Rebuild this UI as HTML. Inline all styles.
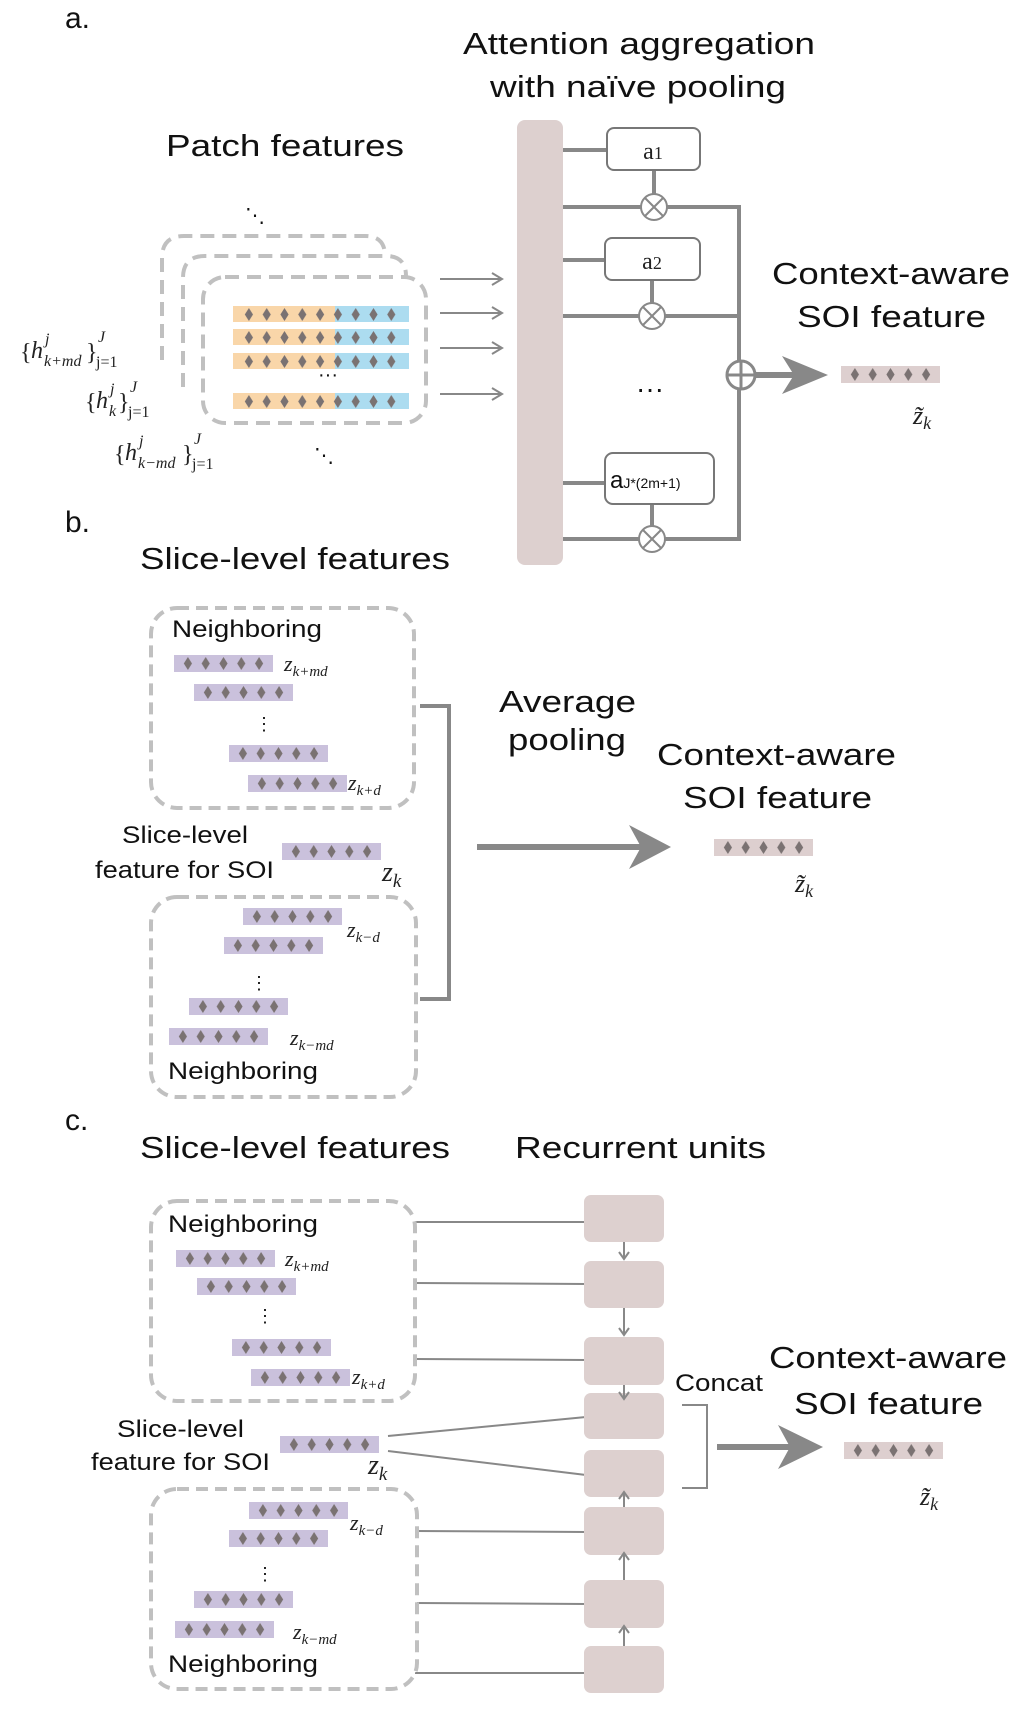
<!DOCTYPE html>
<html><head><meta charset="utf-8"><style>
html,body{margin:0;padding:0;background:#fff;}
svg{display:block;}
.t{font-family:"Liberation Sans",sans-serif;fill:#111;}
.m{font-family:"Liberation Serif",serif;font-style:italic;fill:#222;}
.s{font-family:"Liberation Serif",serif;fill:#222;}
</style></head><body>
<svg width="1017" height="1720" viewBox="0 0 1017 1720" xmlns="http://www.w3.org/2000/svg">
<defs>
<pattern id="dp" x="0" y="0" width="17.8" height="17" patternUnits="userSpaceOnUse">
<polygon points="8.9,2 13,8.5 8.9,15 4.8,8.5" fill="#7a7272"/>
</pattern>
<g id="pb"><rect width="99" height="17" fill="#cac1dc"/><g transform="translate(5,0)"><rect width="89" height="17" fill="url(#dp)"/></g></g>
<g id="kb"><rect width="99" height="17" fill="#ddcfcf"/><g transform="translate(5,0)"><rect width="89" height="17" fill="url(#dp)"/></g></g>
<g id="ob"><rect width="176" height="16" fill="#f9d6a9"/><rect x="102" width="74" height="16" fill="#acdcf0"/><g transform="translate(7,0)"><rect width="160.2" height="16" fill="url(#dp)"/></g></g>
<g id="ar"><line x1="0" y1="0" x2="60" y2="0" stroke="#888" stroke-width="2"/><polyline points="52,-6 62,0 52,6" fill="none" stroke="#888" stroke-width="2"/></g>
<g id="mul"><circle r="13" fill="#fff" stroke="#888" stroke-width="2"/><line x1="-9" y1="-9" x2="9" y2="9" stroke="#888" stroke-width="2"/><line x1="-9" y1="9" x2="9" y2="-9" stroke="#888" stroke-width="2"/></g>
</defs>

<!-- ===== Panel a ===== -->
<text class="t" x="65" y="28" font-size="30">a.</text>
<text class="t" x="463" y="54" font-size="31" textLength="352" lengthAdjust="spacingAndGlyphs">Attention aggregation</text>
<text class="t" x="490" y="97" font-size="31" textLength="296" lengthAdjust="spacingAndGlyphs">with naïve pooling</text>
<text class="t" x="166" y="156" font-size="31" textLength="238" lengthAdjust="spacingAndGlyphs">Patch features</text>

<path d="M162,360 V258 Q162,236 184,236 H365 Q385,236 385,256" fill="none" stroke="#c0c0c0" stroke-width="4" stroke-dasharray="14,8"/>
<path d="M183,387 V278 Q183,256 205,256 H386 Q406,256 406,276" fill="#fff" stroke="#c0c0c0" stroke-width="4" stroke-dasharray="14,8"/>
<rect x="203" y="277" width="223" height="146" rx="22" fill="#fff" stroke="#c0c0c0" stroke-width="4" stroke-dasharray="14,8"/>
<use href="#ob" x="233" y="306"/>
<use href="#ob" x="233" y="329"/>
<use href="#ob" x="233" y="353"/>
<use href="#ob" x="233" y="393"/>
<text class="t" x="318" y="381" font-size="20">···</text>
<text class="t" x="245" y="222" font-size="20">⋱</text>
<text class="t" x="314" y="462" font-size="20">⋱</text>

<!-- set labels -->
<g>
<text class="s" x="20" y="360" font-size="24">{</text>
<text class="m" x="31" y="358" font-size="24">h</text>
<text class="m" x="45" y="344" font-size="16">j</text>
<text class="m" x="44" y="366" font-size="16">k+md</text>
<text class="s" x="86" y="360" font-size="24">}</text>
<text class="m" x="98" y="342" font-size="16">J</text>
<text class="s" x="96" y="367" font-size="16">j=1</text>

<text class="s" x="85" y="410" font-size="24">{</text>
<text class="m" x="96" y="408" font-size="24">h</text>
<text class="m" x="110" y="394" font-size="16">j</text>
<text class="m" x="109" y="416" font-size="16">k</text>
<text class="s" x="118" y="410" font-size="24">}</text>
<text class="m" x="130" y="392" font-size="16">J</text>
<text class="s" x="128" y="417" font-size="16">j=1</text>

<text class="s" x="114" y="462" font-size="24">{</text>
<text class="m" x="125" y="460" font-size="24">h</text>
<text class="m" x="139" y="446" font-size="16">j</text>
<text class="m" x="138" y="468" font-size="16">k−md</text>
<text class="s" x="182" y="462" font-size="24">}</text>
<text class="m" x="194" y="444" font-size="16">J</text>
<text class="s" x="192" y="469" font-size="16">j=1</text>
</g>

<use href="#ar" x="440" y="279"/>
<use href="#ar" x="440" y="313"/>
<use href="#ar" x="440" y="348"/>
<use href="#ar" x="440" y="394"/>

<rect x="517" y="120" width="46" height="445" rx="8" fill="#ddd0cf"/>

<g stroke="#888" stroke-width="4" fill="none">
<line x1="563" y1="150" x2="607" y2="150"/>
<line x1="563" y1="207" x2="739" y2="207"/>
<line x1="563" y1="260" x2="607" y2="260"/>
<line x1="563" y1="316" x2="739" y2="316"/>
<line x1="563" y1="483" x2="607" y2="483"/>
<line x1="563" y1="539" x2="741" y2="539"/>
<line x1="739" y1="205" x2="739" y2="541"/>
<line x1="654" y1="170" x2="654" y2="200"/>
<line x1="652" y1="280" x2="652" y2="310"/>
<line x1="652" y1="504" x2="652" y2="532"/>
</g>
<rect x="607" y="128" width="93" height="42" rx="7" fill="#fff" stroke="#777" stroke-width="2"/>
<text class="s" x="653" y="159" font-size="24" text-anchor="middle">a<tspan font-size="18">1</tspan></text>
<rect x="605" y="238" width="95" height="42" rx="7" fill="#fff" stroke="#777" stroke-width="2"/>
<text class="s" x="652" y="269" font-size="24" text-anchor="middle">a<tspan font-size="18">2</tspan></text>
<rect x="605" y="453" width="109" height="51" rx="8" fill="#fff" stroke="#777" stroke-width="2"/>
<text class="t" x="610" y="488" font-size="24">a<tspan font-size="14">J*(2m+1)</tspan></text>
<use href="#mul" x="654" y="207"/>
<use href="#mul" x="652" y="316"/>
<use href="#mul" x="652" y="539"/>
<text class="t" x="636" y="398" font-size="28">···</text>
<circle cx="741" cy="375" r="14" fill="#fff" stroke="#888" stroke-width="3"/>
<line x1="741" y1="361" x2="741" y2="389" stroke="#888" stroke-width="3"/>
<line x1="727" y1="375" x2="755" y2="375" stroke="#888" stroke-width="3"/>
<line x1="755" y1="375" x2="805" y2="375" stroke="#888" stroke-width="6"/>
<polygon points="782,356 828,375 782,394 794,375" fill="#888"/>
<text class="t" x="772" y="284" font-size="31" textLength="238" lengthAdjust="spacingAndGlyphs">Context-aware</text>
<text class="t" x="797" y="327" font-size="31" textLength="189" lengthAdjust="spacingAndGlyphs">SOI feature</text>
<use href="#kb" x="841" y="366"/>
<text class="m" x="913" y="424" font-size="26">z̃<tspan font-size="18" dy="5">k</tspan></text>

<!-- ===== Panel b ===== -->
<text class="t" x="65" y="532" font-size="30">b.</text>
<text class="t" x="140" y="569" font-size="31" textLength="310" lengthAdjust="spacingAndGlyphs">Slice-level features</text>
<rect x="151" y="608" width="263" height="200" rx="26" fill="none" stroke="#c0c0c0" stroke-width="4" stroke-dasharray="12,7"/>
<text class="t" x="172" y="637" font-size="24" textLength="150" lengthAdjust="spacingAndGlyphs">Neighboring</text>
<use href="#pb" x="174" y="655"/>
<text class="m" x="284" y="671" font-size="22">z<tspan font-size="15" dy="5">k+md</tspan></text>
<use href="#pb" x="194" y="684"/>
<text class="t" x="255" y="730" font-size="18">⋮</text>
<use href="#pb" x="229" y="745"/>
<use href="#pb" x="248" y="775"/>
<text class="m" x="348" y="790" font-size="22">z<tspan font-size="15" dy="5">k+d</tspan></text>

<text class="t" x="122" y="843" font-size="24" textLength="126" lengthAdjust="spacingAndGlyphs">Slice-level</text>
<text class="t" x="95" y="878" font-size="24" textLength="179" lengthAdjust="spacingAndGlyphs">feature for SOI</text>
<use href="#pb" x="282" y="843"/>
<text class="m" x="382" y="881" font-size="28">z<tspan font-size="19" dy="6">k</tspan></text>

<rect x="151" y="897" width="265" height="200" rx="26" fill="none" stroke="#c0c0c0" stroke-width="4" stroke-dasharray="12,7"/>
<use href="#pb" x="243" y="908"/>
<text class="m" x="347" y="937" font-size="22">z<tspan font-size="15" dy="5">k−d</tspan></text>
<use href="#pb" x="224" y="937"/>
<text class="t" x="250" y="989" font-size="18">⋮</text>
<use href="#pb" x="189" y="998"/>
<use href="#pb" x="169" y="1028"/>
<text class="m" x="290" y="1045" font-size="22">z<tspan font-size="15" dy="5">k−md</tspan></text>
<text class="t" x="168" y="1079" font-size="24" textLength="150" lengthAdjust="spacingAndGlyphs">Neighboring</text>

<polyline points="420,706 449,706 449,999 420,999" fill="none" stroke="#888" stroke-width="4"/>
<text class="t" x="499" y="712" font-size="31" textLength="137" lengthAdjust="spacingAndGlyphs">Average</text>
<text class="t" x="508" y="750" font-size="31" textLength="118" lengthAdjust="spacingAndGlyphs">pooling</text>
<text class="t" x="657" y="765" font-size="31" textLength="239" lengthAdjust="spacingAndGlyphs">Context-aware</text>
<text class="t" x="683" y="808" font-size="31" textLength="189" lengthAdjust="spacingAndGlyphs">SOI feature</text>
<line x1="477" y1="847" x2="650" y2="847" stroke="#888" stroke-width="6"/>
<polygon points="629,825 671,847 629,869 641,847" fill="#888"/>
<use href="#kb" x="714" y="839"/>
<text class="m" x="795" y="892" font-size="26">z̃<tspan font-size="18" dy="5">k</tspan></text>

<!-- ===== Panel c ===== -->
<text class="t" x="65" y="1130" font-size="30">c.</text>
<text class="t" x="140" y="1158" font-size="31" textLength="310" lengthAdjust="spacingAndGlyphs">Slice-level features</text>
<text class="t" x="515" y="1158" font-size="31" textLength="251" lengthAdjust="spacingAndGlyphs">Recurrent units</text>

<g stroke="#888" stroke-width="2">
<line x1="415" y1="1222" x2="586" y2="1222"/>
<line x1="415" y1="1283" x2="586" y2="1284"/>
<line x1="415" y1="1359" x2="586" y2="1360"/>
<line x1="388" y1="1436" x2="586" y2="1417"/>
<line x1="388" y1="1451" x2="586" y2="1475"/>
<line x1="415" y1="1531" x2="586" y2="1532"/>
<line x1="415" y1="1603" x2="586" y2="1604"/>
<line x1="415" y1="1673" x2="586" y2="1673"/>
</g>
<rect x="151" y="1201" width="264" height="200" rx="26" fill="#fff" stroke="#c0c0c0" stroke-width="4" stroke-dasharray="12,7"/>
<text class="t" x="168" y="1232" font-size="24" textLength="150" lengthAdjust="spacingAndGlyphs">Neighboring</text>
<use href="#pb" x="176" y="1250"/>
<text class="m" x="285" y="1266" font-size="22">z<tspan font-size="15" dy="5">k+md</tspan></text>
<use href="#pb" x="197" y="1278"/>
<text class="t" x="256" y="1322" font-size="18">⋮</text>
<use href="#pb" x="232" y="1339"/>
<use href="#pb" x="251" y="1369"/>
<text class="m" x="352" y="1384" font-size="22">z<tspan font-size="15" dy="5">k+d</tspan></text>

<text class="t" x="117" y="1437" font-size="24" textLength="127" lengthAdjust="spacingAndGlyphs">Slice-level</text>
<text class="t" x="91" y="1470" font-size="24" textLength="179" lengthAdjust="spacingAndGlyphs">feature for SOI</text>
<use href="#pb" x="280" y="1436"/>
<text class="m" x="368" y="1474" font-size="28">z<tspan font-size="19" dy="6">k</tspan></text>

<rect x="151" y="1489" width="266" height="200" rx="26" fill="#fff" stroke="#c0c0c0" stroke-width="4" stroke-dasharray="12,7"/>
<use href="#pb" x="249" y="1502"/>
<text class="m" x="350" y="1530" font-size="22">z<tspan font-size="15" dy="5">k−d</tspan></text>
<use href="#pb" x="229" y="1530"/>
<text class="t" x="256" y="1580" font-size="18">⋮</text>
<use href="#pb" x="194" y="1591"/>
<use href="#pb" x="175" y="1621"/>
<text class="m" x="293" y="1639" font-size="22">z<tspan font-size="15" dy="5">k−md</tspan></text>
<text class="t" x="168" y="1672" font-size="24" textLength="150" lengthAdjust="spacingAndGlyphs">Neighboring</text>

<g fill="#ddd0cf">
<rect x="584" y="1195" width="80" height="47" rx="7"/>
<rect x="584" y="1261" width="80" height="47" rx="7"/>
<rect x="584" y="1337" width="80" height="48" rx="7"/>
<rect x="584" y="1393" width="80" height="46" rx="7"/>
<rect x="584" y="1450" width="80" height="47" rx="7"/>
<rect x="584" y="1507" width="80" height="48" rx="7"/>
<rect x="584" y="1580" width="80" height="48" rx="7"/>
<rect x="584" y="1646" width="80" height="47" rx="7"/>
</g>
<g stroke="#888" stroke-width="2" fill="none">
<line x1="624" y1="1242" x2="624" y2="1259"/><polyline points="619,1252 624,1259 629,1252"/>
<line x1="624" y1="1308" x2="624" y2="1335"/><polyline points="619,1328 624,1335 629,1328"/>
<line x1="624" y1="1385" x2="624" y2="1399"/><polyline points="619,1392 624,1399 629,1392"/>
<line x1="624" y1="1507" x2="624" y2="1492"/><polyline points="619,1499 624,1492 629,1499"/>
<line x1="624" y1="1580" x2="624" y2="1553"/><polyline points="619,1560 624,1553 629,1560"/>
<line x1="624" y1="1646" x2="624" y2="1626"/><polyline points="619,1633 624,1626 629,1633"/>
</g>
<text class="t" x="675" y="1391" font-size="24" textLength="88" lengthAdjust="spacingAndGlyphs">Concat</text>
<polyline points="682,1405 707,1405 707,1488 682,1488" fill="none" stroke="#888" stroke-width="2"/>
<line x1="717" y1="1447" x2="800" y2="1447" stroke="#888" stroke-width="6"/>
<polygon points="778,1425 823,1447 778,1469 790,1447" fill="#888"/>
<text class="t" x="769" y="1368" font-size="31" textLength="238" lengthAdjust="spacingAndGlyphs">Context-aware</text>
<text class="t" x="794" y="1414" font-size="31" textLength="189" lengthAdjust="spacingAndGlyphs">SOI feature</text>
<use href="#kb" x="844" y="1442"/>
<text class="m" x="920" y="1505" font-size="26">z̃<tspan font-size="18" dy="5">k</tspan></text>
</svg>
</body></html>
